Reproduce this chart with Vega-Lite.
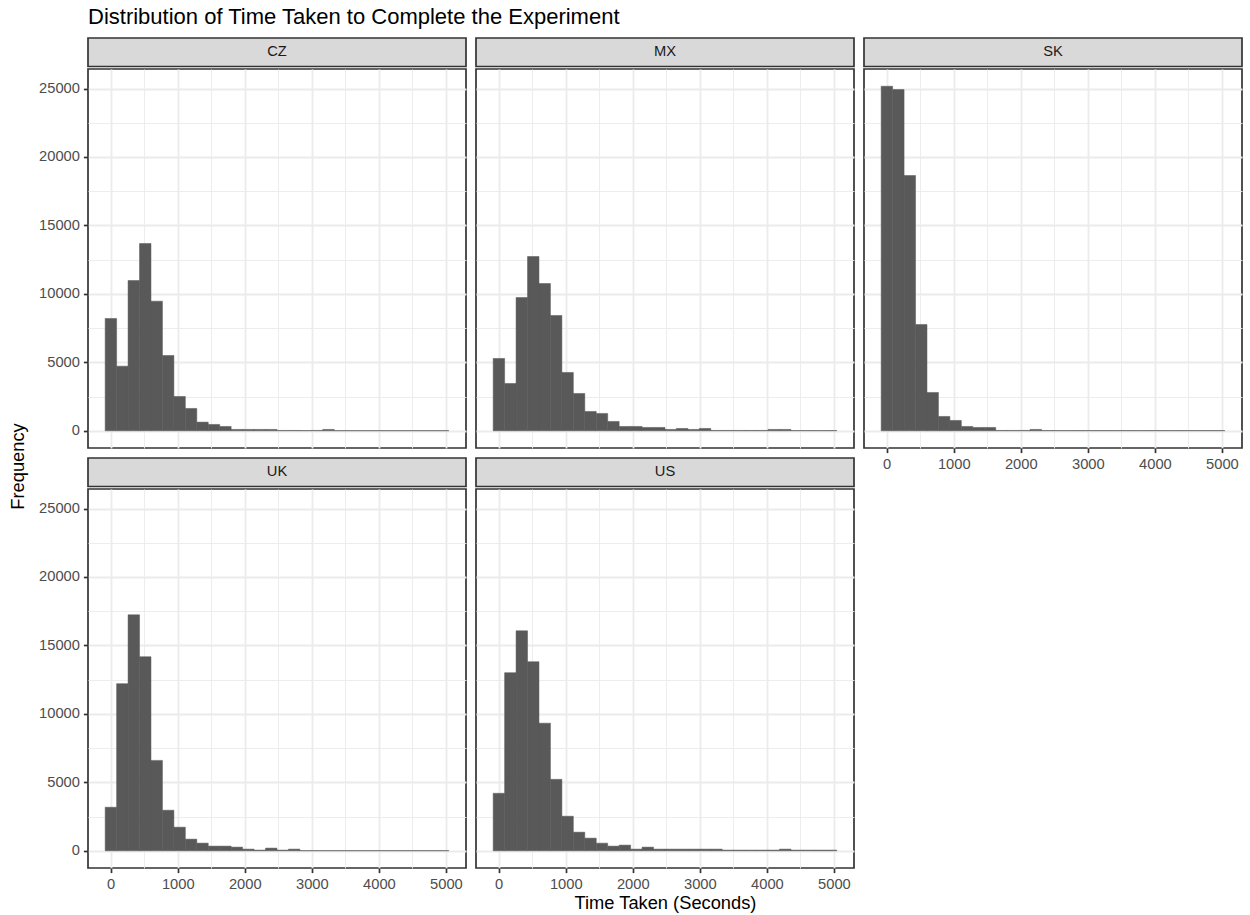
{
  "$schema": "https://vega.github.io/schema/vega-lite/v6.json",
  "padding": {"left": 9, "top": 6, "right": 5, "bottom": 5},
  "title": {"text": "Distribution of Time Taken to Complete the Experiment", "anchor": "start", "frame": "group", "dx": 78, "fontSize": 22, "fontWeight": "normal", "color": "#000000", "font": "Liberation Sans", "offset": 8},
  "datasets": {
    "strips": [{"country": "CZ"}, {"country": "MX"}, {"country": "SK"}, {"country": "UK"}, {"country": "US"}],
    "ylabel": [{"label": "Frequency"}],
    "hist": [
      {"country":"CZ","start":-82,"end":88.8,"count":8203},
      {"country":"CZ","start":88.8,"end":259.6,"count":4722},
      {"country":"CZ","start":259.6,"end":430.4,"count":10977},
      {"country":"CZ","start":430.4,"end":601.2,"count":13679},
      {"country":"CZ","start":601.2,"end":772,"count":9468},
      {"country":"CZ","start":772,"end":942.8,"count":5501},
      {"country":"CZ","start":942.8,"end":1113.6,"count":2507},
      {"country":"CZ","start":1113.6,"end":1284.4,"count":1631},
      {"country":"CZ","start":1284.4,"end":1455.2,"count":633},
      {"country":"CZ","start":1455.2,"end":1626,"count":462},
      {"country":"CZ","start":1626,"end":1796.8,"count":316},
      {"country":"CZ","start":1796.8,"end":1967.6,"count":100},
      {"country":"CZ","start":1967.6,"end":2138.4,"count":100},
      {"country":"CZ","start":2138.4,"end":2309.2,"count":100},
      {"country":"CZ","start":2309.2,"end":2480,"count":100},
      {"country":"CZ","start":2480,"end":2650.8,"count":25},
      {"country":"CZ","start":2650.8,"end":2821.6,"count":25},
      {"country":"CZ","start":2821.6,"end":2992.4,"count":20},
      {"country":"CZ","start":2992.4,"end":3163.2,"count":25},
      {"country":"CZ","start":3163.2,"end":3334,"count":100},
      {"country":"CZ","start":3334,"end":3504.8,"count":15},
      {"country":"CZ","start":3504.8,"end":3675.6,"count":15},
      {"country":"CZ","start":3675.6,"end":3846.4,"count":15},
      {"country":"CZ","start":3846.4,"end":4017.2,"count":15},
      {"country":"CZ","start":4017.2,"end":4188,"count":15},
      {"country":"CZ","start":4188,"end":4358.8,"count":15},
      {"country":"CZ","start":4358.8,"end":4529.6,"count":15},
      {"country":"CZ","start":4529.6,"end":4700.4,"count":15},
      {"country":"CZ","start":4700.4,"end":4871.2,"count":15},
      {"country":"CZ","start":4871.2,"end":5042,"count":15},
      {"country":"MX","start":-82,"end":88.8,"count":5282},
      {"country":"MX","start":88.8,"end":259.6,"count":3456},
      {"country":"MX","start":259.6,"end":430.4,"count":9736},
      {"country":"MX","start":430.4,"end":601.2,"count":12730},
      {"country":"MX","start":601.2,"end":772,"count":10758},
      {"country":"MX","start":772,"end":942.8,"count":8422},
      {"country":"MX","start":942.8,"end":1113.6,"count":4260},
      {"country":"MX","start":1113.6,"end":1284.4,"count":2726},
      {"country":"MX","start":1284.4,"end":1455.2,"count":1412},
      {"country":"MX","start":1455.2,"end":1626,"count":1266},
      {"country":"MX","start":1626,"end":1796.8,"count":682},
      {"country":"MX","start":1796.8,"end":1967.6,"count":316},
      {"country":"MX","start":1967.6,"end":2138.4,"count":316},
      {"country":"MX","start":2138.4,"end":2309.2,"count":243},
      {"country":"MX","start":2309.2,"end":2480,"count":243},
      {"country":"MX","start":2480,"end":2650.8,"count":100},
      {"country":"MX","start":2650.8,"end":2821.6,"count":170},
      {"country":"MX","start":2821.6,"end":2992.4,"count":100},
      {"country":"MX","start":2992.4,"end":3163.2,"count":170},
      {"country":"MX","start":3163.2,"end":3334,"count":25},
      {"country":"MX","start":3334,"end":3504.8,"count":25},
      {"country":"MX","start":3504.8,"end":3675.6,"count":25},
      {"country":"MX","start":3675.6,"end":3846.4,"count":25},
      {"country":"MX","start":3846.4,"end":4017.2,"count":25},
      {"country":"MX","start":4017.2,"end":4188,"count":100},
      {"country":"MX","start":4188,"end":4358.8,"count":100},
      {"country":"MX","start":4358.8,"end":4529.6,"count":20},
      {"country":"MX","start":4529.6,"end":4700.4,"count":20},
      {"country":"MX","start":4700.4,"end":4871.2,"count":20},
      {"country":"MX","start":4871.2,"end":5042,"count":20},
      {"country":"SK","start":-82,"end":88.8,"count":25168},
      {"country":"SK","start":88.8,"end":259.6,"count":24924},
      {"country":"SK","start":259.6,"end":430.4,"count":18645},
      {"country":"SK","start":430.4,"end":601.2,"count":7765},
      {"country":"SK","start":601.2,"end":772,"count":2799},
      {"country":"SK","start":772,"end":942.8,"count":1047},
      {"country":"SK","start":942.8,"end":1113.6,"count":755},
      {"country":"SK","start":1113.6,"end":1284.4,"count":316},
      {"country":"SK","start":1284.4,"end":1455.2,"count":243},
      {"country":"SK","start":1455.2,"end":1626,"count":243},
      {"country":"SK","start":1626,"end":1796.8,"count":25},
      {"country":"SK","start":1796.8,"end":1967.6,"count":25},
      {"country":"SK","start":1967.6,"end":2138.4,"count":25},
      {"country":"SK","start":2138.4,"end":2309.2,"count":100},
      {"country":"SK","start":2309.2,"end":2480,"count":20},
      {"country":"SK","start":2480,"end":2650.8,"count":20},
      {"country":"SK","start":2650.8,"end":2821.6,"count":20},
      {"country":"SK","start":2821.6,"end":2992.4,"count":20},
      {"country":"SK","start":2992.4,"end":3163.2,"count":20},
      {"country":"SK","start":3163.2,"end":3334,"count":20},
      {"country":"SK","start":3334,"end":3504.8,"count":20},
      {"country":"SK","start":3504.8,"end":3675.6,"count":20},
      {"country":"SK","start":3675.6,"end":3846.4,"count":20},
      {"country":"SK","start":3846.4,"end":4017.2,"count":20},
      {"country":"SK","start":4017.2,"end":4188,"count":20},
      {"country":"SK","start":4188,"end":4358.8,"count":20},
      {"country":"SK","start":4358.8,"end":4529.6,"count":20},
      {"country":"SK","start":4529.6,"end":4700.4,"count":20},
      {"country":"SK","start":4700.4,"end":4871.2,"count":20},
      {"country":"SK","start":4871.2,"end":5042,"count":20},
      {"country":"UK","start":-82,"end":88.8,"count":3180},
      {"country":"UK","start":88.8,"end":259.6,"count":12209},
      {"country":"UK","start":259.6,"end":430.4,"count":17233},
      {"country":"UK","start":430.4,"end":601.2,"count":14175},
      {"country":"UK","start":601.2,"end":772,"count":6602},
      {"country":"UK","start":772,"end":942.8,"count":2961},
      {"country":"UK","start":942.8,"end":1113.6,"count":1723},
      {"country":"UK","start":1113.6,"end":1284.4,"count":850},
      {"country":"UK","start":1284.4,"end":1455.2,"count":558},
      {"country":"UK","start":1455.2,"end":1626,"count":340},
      {"country":"UK","start":1626,"end":1796.8,"count":340},
      {"country":"UK","start":1796.8,"end":1967.6,"count":267},
      {"country":"UK","start":1967.6,"end":2138.4,"count":121},
      {"country":"UK","start":2138.4,"end":2309.2,"count":50},
      {"country":"UK","start":2309.2,"end":2480,"count":194},
      {"country":"UK","start":2480,"end":2650.8,"count":50},
      {"country":"UK","start":2650.8,"end":2821.6,"count":121},
      {"country":"UK","start":2821.6,"end":2992.4,"count":15},
      {"country":"UK","start":2992.4,"end":3163.2,"count":15},
      {"country":"UK","start":3163.2,"end":3334,"count":15},
      {"country":"UK","start":3334,"end":3504.8,"count":15},
      {"country":"UK","start":3504.8,"end":3675.6,"count":15},
      {"country":"UK","start":3675.6,"end":3846.4,"count":15},
      {"country":"UK","start":3846.4,"end":4017.2,"count":15},
      {"country":"UK","start":4017.2,"end":4188,"count":15},
      {"country":"UK","start":4188,"end":4358.8,"count":15},
      {"country":"UK","start":4358.8,"end":4529.6,"count":15},
      {"country":"UK","start":4529.6,"end":4700.4,"count":15},
      {"country":"UK","start":4700.4,"end":4871.2,"count":15},
      {"country":"UK","start":4871.2,"end":5042,"count":15},
      {"country":"US","start":-82,"end":88.8,"count":4199},
      {"country":"US","start":88.8,"end":259.6,"count":13009},
      {"country":"US","start":259.6,"end":430.4,"count":16067},
      {"country":"US","start":430.4,"end":601.2,"count":13810},
      {"country":"US","start":601.2,"end":772,"count":9320},
      {"country":"US","start":772,"end":942.8,"count":5218},
      {"country":"US","start":942.8,"end":1113.6,"count":2524},
      {"country":"US","start":1113.6,"end":1284.4,"count":1359},
      {"country":"US","start":1284.4,"end":1455.2,"count":922},
      {"country":"US","start":1455.2,"end":1626,"count":558},
      {"country":"US","start":1626,"end":1796.8,"count":340},
      {"country":"US","start":1796.8,"end":1967.6,"count":413},
      {"country":"US","start":1967.6,"end":2138.4,"count":121},
      {"country":"US","start":2138.4,"end":2309.2,"count":267},
      {"country":"US","start":2309.2,"end":2480,"count":121},
      {"country":"US","start":2480,"end":2650.8,"count":121},
      {"country":"US","start":2650.8,"end":2821.6,"count":121},
      {"country":"US","start":2821.6,"end":2992.4,"count":121},
      {"country":"US","start":2992.4,"end":3163.2,"count":121},
      {"country":"US","start":3163.2,"end":3334,"count":121},
      {"country":"US","start":3334,"end":3504.8,"count":50},
      {"country":"US","start":3504.8,"end":3675.6,"count":50},
      {"country":"US","start":3675.6,"end":3846.4,"count":50},
      {"country":"US","start":3846.4,"end":4017.2,"count":50},
      {"country":"US","start":4017.2,"end":4188,"count":50},
      {"country":"US","start":4188,"end":4358.8,"count":121},
      {"country":"US","start":4358.8,"end":4529.6,"count":50},
      {"country":"US","start":4529.6,"end":4700.4,"count":50},
      {"country":"US","start":4700.4,"end":4871.2,"count":50},
      {"country":"US","start":4871.2,"end":5042,"count":50}
    ]
  },
  "spacing": 9,
  "hconcat": [
    {"width": 18, "height": 857, "view": {"stroke": null}, "data": {"name": "ylabel"}, "mark": {"type": "text", "angle": 270, "fontSize": 18.3, "color": "#000000"}, "encoding": {"text": {"field": "label"}}},
    {
      "spacing": 8,
      "hconcat": [
        {
          "spacing": 8,
          "vconcat": [
            {
              "spacing": 0,
              "vconcat": [
                {"width": 378, "height": 28.5, "view": {"fill": "#D9D9D9", "stroke": "#333333", "strokeWidth": 1.7}, "data": {"name": "strips"}, "transform": [{"filter": "datum.country === 'CZ'"}], "mark": {"type": "text", "fontSize": 14.7, "color": "#1A1A1A"}, "encoding": {"text": {"field": "country"}}},
                {"width": 378, "height": 379, "data": {"name": "hist"}, "transform": [{"filter": "datum.country === 'CZ'"}],
                  "mark": {"type": "bar", "color": "#595959", "stroke": "#595959", "strokeWidth": 0.5},
                  "encoding": {
                    "x": {"field": "start", "type": "quantitative", "scale": {"domain": [-338, 5299], "nice": false, "zero": false},
                      "axis": {"values": [0,500,1000,1500,2000,2500,3000,3500,4000,4500,5000], "labels": false, "ticks": false, "title": null, "gridWidth": {"condition": {"test": "datum.value % 1000 === 0", "value": 1.8}, "value": 0.9}}},
                    "x2": {"field": "end"},
                    "y": {"field": "count", "type": "quantitative", "scale": {"domain": [-1258, 26426], "nice": false, "zero": false},
                      "axis": {"values": [0,2500,5000,7500,10000,12500,15000,17500,20000,22500,25000], "format": "d", "title": null, "labelExpr": "datum.value % 5000 === 0 ? datum.label : ''", "tickOpacity": {"condition": {"test": "datum.value % 5000 === 0", "value": 1}, "value": 0}, "gridWidth": {"condition": {"test": "datum.value % 5000 === 0", "value": 1.8}, "value": 0.9}}},
                    "y2": {"datum": 0}
                  }
                }
              ]
            },
            {
              "spacing": 0,
              "vconcat": [
                {"width": 378, "height": 28.5, "view": {"fill": "#D9D9D9", "stroke": "#333333", "strokeWidth": 1.7}, "data": {"name": "strips"}, "transform": [{"filter": "datum.country === 'UK'"}], "mark": {"type": "text", "fontSize": 14.7, "color": "#1A1A1A"}, "encoding": {"text": {"field": "country"}}},
                {"width": 378, "height": 379, "data": {"name": "hist"}, "transform": [{"filter": "datum.country === 'UK'"}],
                  "mark": {"type": "bar", "color": "#595959", "stroke": "#595959", "strokeWidth": 0.5},
                  "encoding": {
                    "x": {"field": "start", "type": "quantitative", "scale": {"domain": [-338, 5299], "nice": false, "zero": false},
                      "axis": {"values": [0,500,1000,1500,2000,2500,3000,3500,4000,4500,5000], "format": "d", "title": null, "labelExpr": "datum.value % 1000 === 0 ? datum.label : ''", "tickOpacity": {"condition": {"test": "datum.value % 1000 === 0", "value": 1}, "value": 0}, "gridWidth": {"condition": {"test": "datum.value % 1000 === 0", "value": 1.8}, "value": 0.9}}},
                    "x2": {"field": "end"},
                    "y": {"field": "count", "type": "quantitative", "scale": {"domain": [-1258, 26426], "nice": false, "zero": false},
                      "axis": {"values": [0,2500,5000,7500,10000,12500,15000,17500,20000,22500,25000], "format": "d", "title": null, "labelExpr": "datum.value % 5000 === 0 ? datum.label : ''", "tickOpacity": {"condition": {"test": "datum.value % 5000 === 0", "value": 1}, "value": 0}, "gridWidth": {"condition": {"test": "datum.value % 5000 === 0", "value": 1.8}, "value": 0.9}}},
                    "y2": {"datum": 0}
                  }
                }
              ]
            }
          ]
        },
        {
          "spacing": 8,
          "vconcat": [
            {
              "spacing": 0,
              "vconcat": [
                {"width": 378, "height": 28.5, "view": {"fill": "#D9D9D9", "stroke": "#333333", "strokeWidth": 1.7}, "data": {"name": "strips"}, "transform": [{"filter": "datum.country === 'MX'"}], "mark": {"type": "text", "fontSize": 14.7, "color": "#1A1A1A"}, "encoding": {"text": {"field": "country"}}},
                {"width": 378, "height": 379, "data": {"name": "hist"}, "transform": [{"filter": "datum.country === 'MX'"}],
                  "mark": {"type": "bar", "color": "#595959", "stroke": "#595959", "strokeWidth": 0.5},
                  "encoding": {
                    "x": {"field": "start", "type": "quantitative", "scale": {"domain": [-338, 5299], "nice": false, "zero": false},
                      "axis": {"values": [0,500,1000,1500,2000,2500,3000,3500,4000,4500,5000], "labels": false, "ticks": false, "title": null, "gridWidth": {"condition": {"test": "datum.value % 1000 === 0", "value": 1.8}, "value": 0.9}}},
                    "x2": {"field": "end"},
                    "y": {"field": "count", "type": "quantitative", "scale": {"domain": [-1258, 26426], "nice": false, "zero": false},
                      "axis": {"values": [0,2500,5000,7500,10000,12500,15000,17500,20000,22500,25000], "labels": false, "ticks": false, "title": null, "gridWidth": {"condition": {"test": "datum.value % 5000 === 0", "value": 1.8}, "value": 0.9}}},
                    "y2": {"datum": 0}
                  }
                }
              ]
            },
            {
              "spacing": 0,
              "vconcat": [
                {"width": 378, "height": 28.5, "view": {"fill": "#D9D9D9", "stroke": "#333333", "strokeWidth": 1.7}, "data": {"name": "strips"}, "transform": [{"filter": "datum.country === 'US'"}], "mark": {"type": "text", "fontSize": 14.7, "color": "#1A1A1A"}, "encoding": {"text": {"field": "country"}}},
                {"width": 378, "height": 379, "data": {"name": "hist"}, "transform": [{"filter": "datum.country === 'US'"}],
                  "mark": {"type": "bar", "color": "#595959", "stroke": "#595959", "strokeWidth": 0.5},
                  "encoding": {
                    "x": {"field": "start", "type": "quantitative", "scale": {"domain": [-338, 5299], "nice": false, "zero": false},
                      "axis": {"values": [0,500,1000,1500,2000,2500,3000,3500,4000,4500,5000], "format": "d", "title": "Time Taken (Seconds)", "titlePadding": 4, "labelExpr": "datum.value % 1000 === 0 ? datum.label : ''", "tickOpacity": {"condition": {"test": "datum.value % 1000 === 0", "value": 1}, "value": 0}, "gridWidth": {"condition": {"test": "datum.value % 1000 === 0", "value": 1.8}, "value": 0.9}}},
                    "x2": {"field": "end"},
                    "y": {"field": "count", "type": "quantitative", "scale": {"domain": [-1258, 26426], "nice": false, "zero": false},
                      "axis": {"values": [0,2500,5000,7500,10000,12500,15000,17500,20000,22500,25000], "labels": false, "ticks": false, "title": null, "gridWidth": {"condition": {"test": "datum.value % 5000 === 0", "value": 1.8}, "value": 0.9}}},
                    "y2": {"datum": 0}
                  }
                }
              ]
            }
          ]
        },
        {
          "spacing": 0,
          "vconcat": [
            {"width": 378, "height": 28.5, "view": {"fill": "#D9D9D9", "stroke": "#333333", "strokeWidth": 1.7}, "data": {"name": "strips"}, "transform": [{"filter": "datum.country === 'SK'"}], "mark": {"type": "text", "fontSize": 14.7, "color": "#1A1A1A"}, "encoding": {"text": {"field": "country"}}},
            {"width": 378, "height": 379, "data": {"name": "hist"}, "transform": [{"filter": "datum.country === 'SK'"}],
              "mark": {"type": "bar", "color": "#595959", "stroke": "#595959", "strokeWidth": 0.5},
              "encoding": {
                "x": {"field": "start", "type": "quantitative", "scale": {"domain": [-338, 5299], "nice": false, "zero": false},
                  "axis": {"values": [0,500,1000,1500,2000,2500,3000,3500,4000,4500,5000], "format": "d", "title": null, "labelExpr": "datum.value % 1000 === 0 ? datum.label : ''", "tickOpacity": {"condition": {"test": "datum.value % 1000 === 0", "value": 1}, "value": 0}, "gridWidth": {"condition": {"test": "datum.value % 1000 === 0", "value": 1.8}, "value": 0.9}}},
                "x2": {"field": "end"},
                "y": {"field": "count", "type": "quantitative", "scale": {"domain": [-1258, 26426], "nice": false, "zero": false},
                  "axis": {"values": [0,2500,5000,7500,10000,12500,15000,17500,20000,22500,25000], "labels": false, "ticks": false, "title": null, "gridWidth": {"condition": {"test": "datum.value % 5000 === 0", "value": 1.8}, "value": 0.9}}},
                "y2": {"datum": 0}
              }
            }
          ]
        }
      ]
    }
  ],
  "config": {
    "font": "Liberation Sans",
    "view": {"stroke": "#333333", "strokeWidth": 1.7},
    "axis": {"domain": false, "gridColor": "#EBEBEB", "tickColor": "#333333", "tickWidth": 1.7, "tickSize": 4.6, "labelFont": "Liberation Sans", "labelFontSize": 14.7, "labelColor": "#4D4D4D", "labelFlush": false, "labelOverlap": false, "titleFont": "Liberation Sans", "titleFontSize": 18.3, "titleFontWeight": "normal", "titleColor": "#000000"},
    "axisX": {"labelPadding": 3.5},
    "axisY": {"labelPadding": 4}
  }
}
